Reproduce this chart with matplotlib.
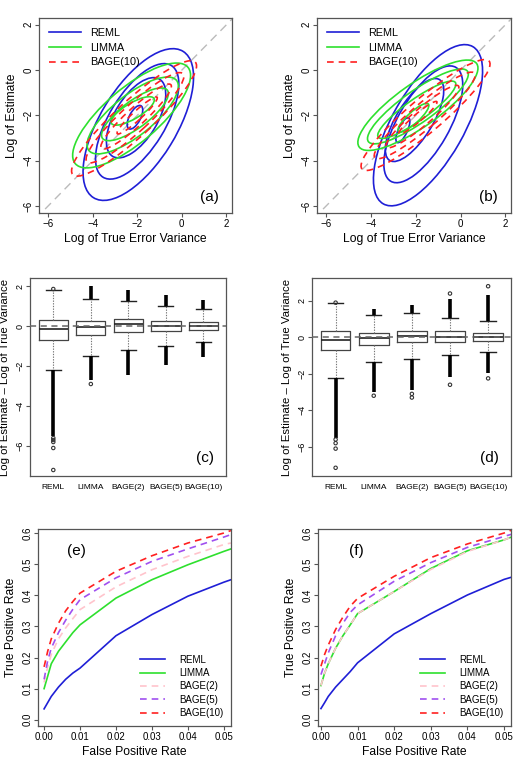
import matplotlib
matplotlib.use('Agg')
import matplotlib.pyplot as plt
from matplotlib.patches import Ellipse
from matplotlib.lines import Line2D

plt.rcParams['font.family'] = ['Liberation Sans', 'DejaVu Sans']

# ---------------- data ----------------
# contour levels approximated as ellipses: (centre x, centre y, major, minor, angle deg)
a_reml = [(-1.95, -2.40, 7.6, 3.4, 58), (-2.00, -2.26, 5.8, 2.5, 58),
          (-2.05, -2.10, 4.0, 1.9, 58), (-2.10, -2.08, 1.15, 0.5, 62)]
a_limma = [(-2.25, -2.00, 6.6, 2.4, 40), (-2.20, -2.00, 5.0, 1.8, 38),
           (-2.10, -1.95, 3.6, 1.2, 36), (-2.20, -1.80, 2.2, 0.7, 30)]
a_bage10 = [(-2.14, -2.13, 7.4, 1.6, 42), (-2.10, -2.10, 5.8, 1.2, 42),
            (-2.05, -2.05, 4.2, 0.8, 42), (-2.00, -2.00, 2.4, 0.4, 42)]
b_reml = [(-1.45, -2.43, 8.0, 3.2, 60), (-1.66, -2.39, 5.8, 2.3, 60),
          (-2.05, -2.20, 4.2, 1.6, 58), (-2.57, -2.65, 1.2, 0.4, 65)]
b_limma = [(-1.90, -1.55, 6.4, 1.9, 35), (-1.90, -1.60, 5.4, 1.4, 35),
           (-1.95, -1.75, 4.2, 0.95, 35), (-2.10, -2.10, 1.8, 0.5, 42)]
b_bage10 = [(-1.56, -1.98, 7.4, 1.5, 40), (-1.60, -2.00, 5.8, 1.1, 40),
            (-1.70, -2.05, 4.2, 0.75, 40), (-1.90, -2.10, 2.2, 0.35, 40)]

box_labels = ['REML', 'LIMMA', 'BAGE(2)', 'BAGE(5)', 'BAGE(10)']
# q1, median, q3, lower whisker, upper whisker
c_q1 = [-0.70, -0.45, -0.28, -0.23, -0.20]
c_med = [-0.15, -0.07, 0.08, 0.00, 0.00]
c_q3 = [0.30, 0.25, 0.35, 0.27, 0.22]
c_wlo = [-2.20, -1.50, -1.20, -0.98, -0.78]
c_whi = [1.80, 1.33, 1.25, 1.02, 0.83]
# dense outlier bands (low end, high end) below and above
c_dense_lo = [(-5.5, -2.2), (-2.7, -1.5), (-2.45, -1.2), (-1.95, -0.98), (-1.55, -0.78)]
c_dense_hi = [None, (1.33, 2.0), (1.25, 1.82), (1.02, 1.55), (0.83, 1.3)]
c_sparse = [[1.85, -5.6, -5.7, -5.8, -6.1, -7.2], [-2.9], [], [], []]

d_q1 = [-0.71, -0.40, -0.27, -0.24, -0.20]
d_med = [-0.16, -0.04, 0.05, 0.04, 0.00]
d_q3 = [0.33, 0.26, 0.37, 0.32, 0.26]
d_wlo = [-2.23, -1.37, -1.20, -0.99, -0.82]
d_whi = [1.88, 1.24, 1.31, 1.06, 0.88]
d_dense_lo = [(-5.5, -2.23), (-3.0, -1.37), (-2.9, -1.2), (-2.2, -0.99), (-1.95, -0.82)]
d_dense_hi = [None, (1.24, 1.55), (1.31, 1.75), (1.06, 2.1), (0.88, 2.3)]
d_sparse = [[1.9, -5.6, -5.8, -6.1, -7.15], [-3.2], [-3.1, -3.3], [2.4, -2.6], [2.8, -2.25]]

fpr = [0.0, 0.001, 0.002, 0.004, 0.006, 0.008, 0.01, 0.02, 0.03, 0.04, 0.05, 0.052]
e_reml = [0.035, 0.055, 0.075, 0.105, 0.13, 0.15, 0.166, 0.27, 0.338, 0.397, 0.442, 0.45]
e_limma = [0.10, 0.14, 0.18, 0.22, 0.25, 0.28, 0.305, 0.391, 0.45, 0.498, 0.541, 0.549]
e_bage2 = [0.12, 0.17, 0.21, 0.26, 0.295, 0.325, 0.354, 0.427, 0.482, 0.525, 0.563, 0.568]
e_bage5 = [0.13, 0.19, 0.23, 0.28, 0.32, 0.355, 0.386, 0.456, 0.509, 0.549, 0.587, 0.595]
e_bage10 = [0.17, 0.22, 0.26, 0.31, 0.35, 0.38, 0.407, 0.477, 0.527, 0.568, 0.60, 0.608]

f_reml = [0.036, 0.055, 0.075, 0.105, 0.13, 0.155, 0.183, 0.276, 0.341, 0.401, 0.451, 0.458]
f_limma = [0.11, 0.15, 0.18, 0.23, 0.27, 0.305, 0.341, 0.412, 0.486, 0.543, 0.578, 0.587]
f_bage2 = [0.11, 0.15, 0.18, 0.23, 0.27, 0.305, 0.341, 0.412, 0.483, 0.541, 0.578, 0.587]
f_bage5 = [0.145, 0.18, 0.215, 0.27, 0.31, 0.345, 0.369, 0.445, 0.505, 0.554, 0.589, 0.596]
f_bage10 = [0.172, 0.21, 0.24, 0.29, 0.33, 0.365, 0.39, 0.461, 0.521, 0.565, 0.60, 0.609]

# ---------------- style ----------------
BLUE = '#1f1fd6'
GREEN = '#2ee02e'
RED = '#ff2020'
PINK = '#ffc4cc'
PURPLE = '#a050f0'
FRAME = '#555555'

fig = plt.figure(figsize=(5.21, 7.68), dpi=100)

def style_axes(ax, tick_fs=7):
    for s in ax.spines.values():
        s.set_color(FRAME)
        s.set_linewidth(0.9)
    ax.tick_params(direction='out', length=3, width=0.8, color=FRAME,
                   labelsize=tick_fs, pad=1.5)
    ax.tick_params(axis='y', pad=0.8)
    for lab in ax.get_yticklabels():
        lab.set_rotation(90)
        lab.set_va('center')

def contour_panel(rect, reml, limma, bage, label):
    ax = fig.add_axes(rect)
    ax.set_xlim(-6.4, 2.25)
    ax.set_ylim(-6.3, 2.3)
    ax.plot([-7, 3], [-7, 3], color='#bbbbbb', lw=1.0, ls=(0, (6, 4)), zorder=1)
    for el in reml:
        ax.add_patch(Ellipse((el[0], el[1]), el[2], el[3], angle=el[4], fill=False,
                             ec=BLUE, lw=1.2, zorder=2))
    for el in limma:
        ax.add_patch(Ellipse((el[0], el[1]), el[2], el[3], angle=el[4], fill=False,
                             ec=GREEN, lw=1.2, zorder=3))
    for el in bage:
        ax.add_patch(Ellipse((el[0], el[1]), el[2], el[3], angle=el[4], fill=False,
                             ec=RED, lw=1.2, ls=(0, (4, 3)), zorder=4))
    ax.set_xticks([-6, -4, -2, 0, 2])
    ax.set_yticks([-6, -4, -2, 0, 2])
    style_axes(ax)
    ax.set_xlabel('Log of True Error Variance', fontsize=8.7, labelpad=3)
    ax.set_ylabel('Log of Estimate', fontsize=8.7, labelpad=4)
    handles = [Line2D([], [], color=BLUE, lw=1.2),
               Line2D([], [], color=GREEN, lw=1.2),
               Line2D([], [], color=RED, lw=1.2, ls=(0, (4, 3)))]
    ax.legend(handles, ['REML', 'LIMMA', 'BAGE(10)'], loc='upper left', frameon=False,
              fontsize=7.8, handlelength=3.0, handletextpad=0.8, labelspacing=0.45,
              borderaxespad=0.5)
    ax.text(0.93, 0.08, label, transform=ax.transAxes, fontsize=11, ha='right', va='center')
    return ax

def box_panel(rect, q1, med, q3, wlo, whi, dlo, dhi, sparse, ylim, label):
    ax = fig.add_axes(rect)
    stats = []
    for i in range(len(box_labels)):
        stats.append(dict(q1=q1[i], med=med[i], q3=q3[i], whislo=wlo[i], whishi=whi[i],
                          fliers=[], label=box_labels[i]))
    ax.bxp(stats, positions=range(1, 6), widths=0.78, capwidths=0.4, showfliers=False,
           boxprops=dict(color='#444444', lw=0.9),
           medianprops=dict(color='#222222', lw=1.2),
           whiskerprops=dict(color='#777777', lw=0.8, ls=(0, (1.2, 1.2))),
           capprops=dict(color='#222222', lw=1.0))
    for i in range(5):
        ax.vlines(i + 1, dlo[i][0], dlo[i][1], color='black', lw=2.6, zorder=3)
        if dhi[i] is not None:
            ax.vlines(i + 1, dhi[i][0], dhi[i][1], color='black', lw=2.6, zorder=3)
        if sparse[i]:
            ax.scatter([i + 1] * len(sparse[i]), sparse[i], s=6, facecolors='none',
                       edgecolors='#333333', linewidths=0.8, zorder=3)
    ax.axhline(0, color='#666666', lw=1.1, ls=(0, (4, 3)), zorder=4)
    ax.set_xlim(0.38, 5.6)
    ax.set_ylim(*ylim)
    ax.set_yticks([-6, -4, -2, 0, 2])
    style_axes(ax, tick_fs=6.5)
    ax.tick_params(axis='x', length=0, labelsize=6, pad=6)
    ax.set_ylabel('Log of Estimate – Log of True Variance', fontsize=8.2, labelpad=4)
    ax.text(0.94, 0.09, label, transform=ax.transAxes, fontsize=11, ha='right', va='center')
    return ax

def roc_panel(rect, reml, limma, b2, b5, b10, xlim, label):
    ax = fig.add_axes(rect)
    ax.plot(fpr, reml, color=BLUE, lw=1.2, label='REML')
    ax.plot(fpr, limma, color=GREEN, lw=1.2, label='LIMMA')
    ax.plot(fpr, b2, color=PINK, lw=1.2, ls=(0, (4, 3)), label='BAGE(2)')
    ax.plot(fpr, b5, color=PURPLE, lw=1.2, ls=(0, (4, 3)), label='BAGE(5)')
    ax.plot(fpr, b10, color=RED, lw=1.2, ls=(0, (4, 3)), label='BAGE(10)')
    ax.set_xlim(*xlim)
    ax.set_ylim(-0.02, 0.613)
    ax.set_xticks([0.0, 0.01, 0.02, 0.03, 0.04, 0.05])
    ax.set_xticklabels(['0.00', '0.01', '0.02', '0.03', '0.04', '0.05'])
    ax.set_yticks([0.0, 0.1, 0.2, 0.3, 0.4, 0.5, 0.6])
    ax.set_yticklabels(['0.0', '0.1', '0.2', '0.3', '0.4', '0.5', '0.6'])
    style_axes(ax)
    ax.set_xlabel('False Positive Rate', fontsize=8.7, labelpad=3)
    ax.set_ylabel('True Positive Rate', fontsize=8.7, labelpad=4)
    ax.legend(loc='lower right', frameon=False, fontsize=7, handlelength=2.6,
              handletextpad=1.4, labelspacing=0.35, borderaxespad=0.4)
    ax.text(0.2, 0.89, label, transform=ax.transAxes, fontsize=11, ha='center', va='center')
    return ax

contour_panel([0.0749, 0.7227, 0.3704, 0.2539], a_reml, a_limma, a_bage10, '(a)')
contour_panel([0.6084, 0.7227, 0.3724, 0.2539], b_reml, b_limma, b_bage10, '(b)')
box_panel([0.0576, 0.3802, 0.3762, 0.2578], c_q1, c_med, c_q3, c_wlo, c_whi,
          c_dense_lo, c_dense_hi, c_sparse, (-7.5, 2.4), '(c)')
box_panel([0.5988, 0.3802, 0.3820, 0.2578], d_q1, d_med, d_q3, d_wlo, d_whi,
          d_dense_lo, d_dense_hi, d_sparse, (-7.6, 3.25), '(d)')
roc_panel([0.0729, 0.0547, 0.3704, 0.2565], e_reml, e_limma, e_bage2, e_bage5, e_bage10,
          (-0.0017, 0.052), '(e)')
roc_panel([0.6104, 0.0547, 0.3704, 0.2565], f_reml, f_limma, f_bage2, f_bage5, f_bage10,
          (-0.0008, 0.0519), '(f)')

fig.savefig('out.png', dpi=100)
